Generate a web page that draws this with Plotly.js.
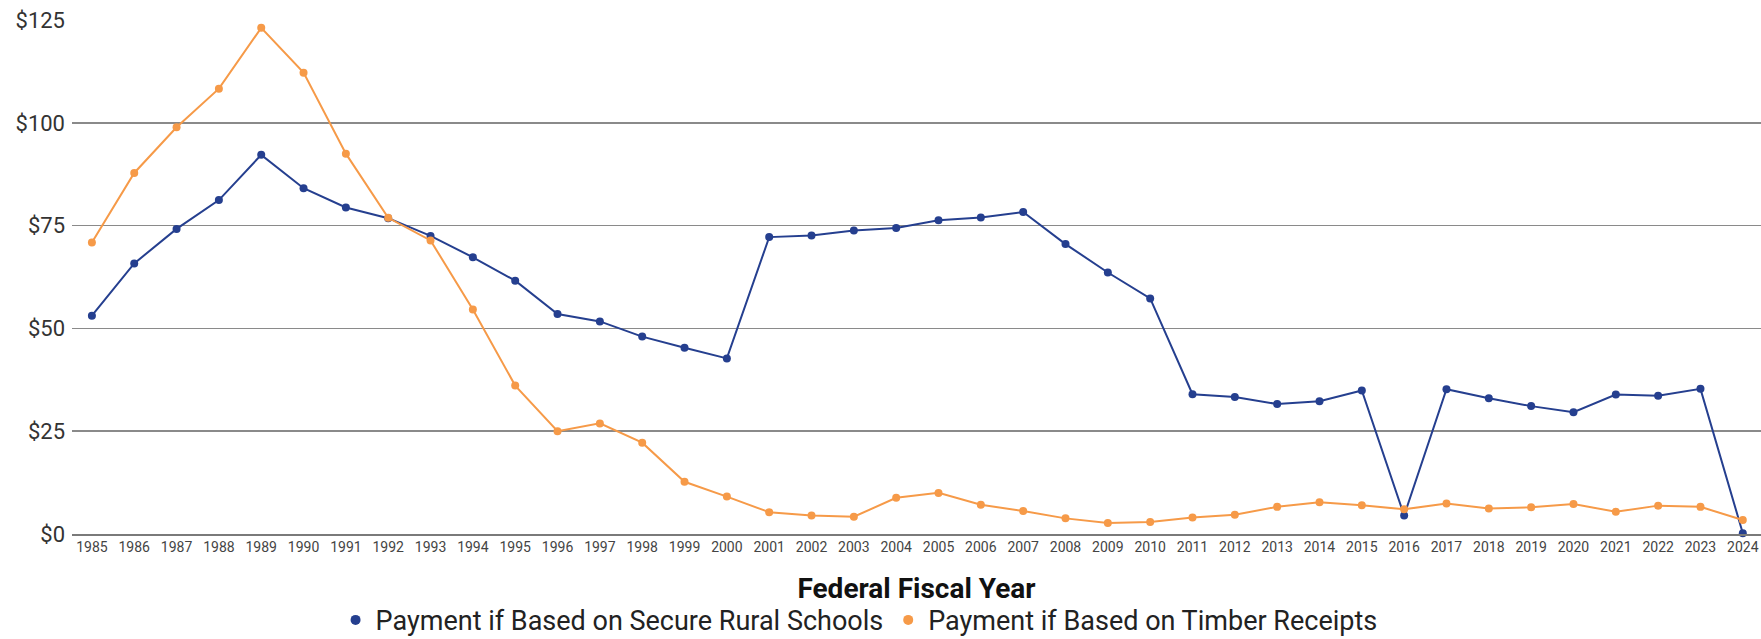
<!DOCTYPE html>
<html>
<head>
<meta charset="utf-8">
<script src="https://cdn.plot.ly/plotly-3.0.1.min.js"></script>
<style>
  html, body { margin: 0; padding: 0; background: #ffffff; }
  #chart { width: 1761px; height: 639px; }
</style>
</head>
<body>
<div id="chart"></div>
<script>
const years = ["1985","1986","1987","1988","1989","1990","1991","1992","1993","1994",
  "1995","1996","1997","1998","1999","2000","2001","2002","2003","2004",
  "2005","2006","2007","2008","2009","2010","2011","2012","2013","2014",
  "2015","2016","2017","2018","2019","2020","2021","2022","2023","2024"];

const secureRuralSchools = [53.1, 65.8, 74.2, 81.2, 92.2, 84.1, 79.4, 76.8, 72.5, 67.3,
  61.6, 53.5, 51.7, 48.0, 45.3, 42.7, 72.2, 72.6, 73.8, 74.4,
  76.3, 77.0, 78.3, 70.5, 63.6, 57.3, 34.0, 33.3, 31.6, 32.3,
  34.9, 4.5, 35.2, 33.0, 31.1, 29.6, 33.9, 33.6, 35.3, 0.2];

const timberReceipts = [70.9, 87.8, 98.9, 108.3, 123.1, 112.2, 92.5, 76.9, 71.4, 54.6,
  36.1, 25.0, 26.9, 22.2, 12.7, 9.1, 5.3, 4.5, 4.2, 8.8,
  10.0, 7.1, 5.6, 3.8, 2.7, 2.9, 4.0, 4.7, 6.6, 7.7,
  7.0, 6.0, 7.4, 6.2, 6.5, 7.3, 5.4, 6.9, 6.6, 3.4];

const seriesNames = ["Payment if Based on Secure Rural Schools", "Payment if Based on Timber Receipts"];
const yTicks = [0, 25, 50, 75, 100, 125];
const yTickText = ["$0", "$25", "$50", "$75", "$100", "$125"];

const blue = "#253f8f";
const orange = "#f69a48";

const traces = [
  { x: years, y: secureRuralSchools, type: "scatter", mode: "lines+markers",
    line: { color: blue, width: 2 }, marker: { color: blue, size: 8 },
    showlegend: false, hoverinfo: "skip", cliponaxis: false },
  { x: years, y: timberReceipts, type: "scatter", mode: "lines+markers",
    line: { color: orange, width: 2 }, marker: { color: orange, size: 8 },
    showlegend: false, hoverinfo: "skip", cliponaxis: false },
  { x: [years[0]], y: [null], type: "scatter", mode: "markers", name: seriesNames[0],
    marker: { color: blue, size: 10 }, hoverinfo: "skip" },
  { x: [years[0]], y: [null], type: "scatter", mode: "markers", name: seriesNames[1],
    marker: { color: orange, size: 10 }, hoverinfo: "skip" }
];

const layout = {
  width: 1761, height: 639,
  margin: { l: 72, r: 0, t: 20, b: 105, autoexpand: false },
  paper_bgcolor: "#ffffff", plot_bgcolor: "#ffffff",
  font: { family: "Roboto, sans-serif", color: "#222" },
  xaxis: {
    type: "category", categoryorder: "array", categoryarray: years,
    range: [-0.47, 39.43], automargin: true,
    showgrid: false, zeroline: false,
    showline: true, linecolor: "#7a7a7a", linewidth: 1.5,
    ticks: "", tickfont: { size: 14, color: "#444" },
    tickangle: 0,
    title: { text: "<b>Federal Fiscal Year</b>", font: { size: 28, color: "#111" }, standoff: 24 }
  },
  yaxis: {
    range: [0, 125], tickvals: yTicks, ticktext: yTickText, automargin: false,
    showgrid: true, gridcolor: "#8a8a8a", gridwidth: 1.5,
    zeroline: false, showline: false, ticks: "",
    tickfont: { size: 22, color: "#333" },
    ticklabelstandoff: 6
  },
  showlegend: true,
  legend: {
    orientation: "h", x: 0.466, xanchor: "center", y: -0.168, yanchor: "middle",
    font: { size: 27, color: "#222" }, itemwidth: 30, tracegroupgap: 0,
    bgcolor: "rgba(0,0,0,0)"
  }
};

Plotly.newPlot("chart", traces, layout, { displayModeBar: false, staticPlot: true });
</script>
</body>
</html>
